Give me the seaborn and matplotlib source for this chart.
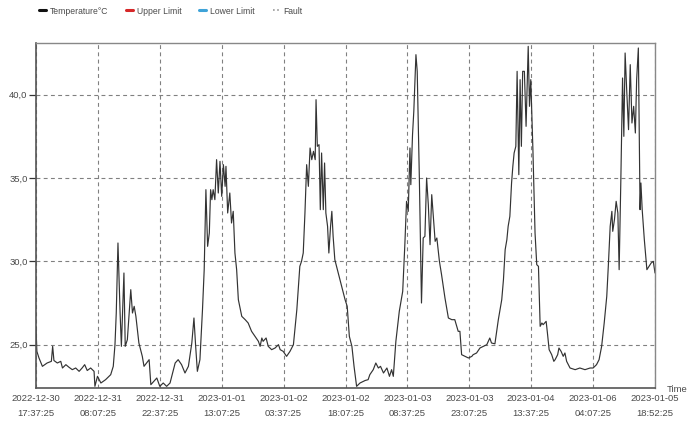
import matplotlib
matplotlib.use("Agg")
import matplotlib.pyplot as plt
from matplotlib.lines import Line2D
from matplotlib.ticker import FuncFormatter
import numpy as np
import pandas as pd
import seaborn as sns

# Hours elapsed since 2022-12-30 17:37:25
hours = [
    0.0, 0.2, 0.7, 1.5, 2.6, 3.6, 3.9, 4.2, 5.0, 5.8, 6.2, 7.0, 7.7, 8.5, 9.3,
    10.1, 10.8, 11.4, 12.0, 12.8, 13.6, 13.8, 14.1, 14.4, 15.2, 16.3, 17.5,
    18.1, 18.5, 18.8, 19.2, 19.7, 20.0, 20.6, 20.9, 21.4, 22.2, 22.6, 23.0,
    23.4, 24.1, 24.9, 25.3, 26.5, 26.9, 27.6, 28.3, 29.0, 29.8, 30.6, 31.4,
    32.6, 33.3, 34.1, 34.9, 35.7, 36.5, 37.0, 37.4, 37.8, 38.4, 39.0, 39.4,
    39.8, 40.2, 40.6, 40.9, 41.2, 41.5, 41.9, 42.3, 42.7, 43.1, 43.5, 43.9,
    44.3, 44.5, 44.9, 45.4, 45.8, 46.2, 46.6, 47.0, 47.4, 48.2, 49.0, 49.7,
    50.5, 51.3, 52.1, 52.5, 52.9, 53.2, 53.9, 54.4, 55.2, 56.0, 56.8, 57.2,
    57.9, 58.7, 59.5, 60.3, 61.1, 61.8, 62.2, 62.6, 63.0, 63.4, 63.8, 64.2,
    64.6, 65.0, 65.4, 65.6, 65.9, 66.3, 66.6, 66.9, 67.3, 67.6, 67.9, 68.3,
    68.6, 69.0, 69.3, 69.6, 70.0, 70.8, 71.6, 72.4, 72.9, 73.4, 74.0, 74.5,
    75.1, 75.9, 77.1, 77.8, 78.2, 79.0, 79.6, 80.2, 80.7, 81.4, 82.2, 82.8,
    83.3, 83.7, 84.3, 85.1, 85.9, 86.4, 86.8, 87.2, 87.6, 87.8, 88.2, 88.5,
    89.0, 89.3, 89.8, 90.3, 90.7, 91.1, 91.5, 91.9, 92.3, 92.7, 93.1, 93.5,
    93.9, 94.5, 95.0, 95.8, 96.6, 97.4, 98.1, 98.9, 99.3, 99.7, 100.5, 101.3,
    102.1, 102.4, 103.2, 104.0, 104.8, 105.6, 106.3, 106.7, 107.5, 108.3,
    109.1, 109.5, 109.9, 110.3, 110.6, 111.0, 111.4, 111.7, 112.0, 112.4,
    112.7, 113.1, 113.4, 113.7, 114.0, 114.4, 114.8, 115.3, 115.6, 115.9,
    116.4, 116.9, 117.3, 117.7, 118.1, 118.5, 118.8, 119.5, 119.8, 120.2,
    120.8, 121.3, 121.6, 122.2, 122.5, 123.0, 123.5, 123.9, 124.3, 125.1,
    126.3, 127.4, 128.6, 129.8, 130.5, 131.3, 131.9, 132.5, 133.1, 133.7,
    134.1, 134.5, 134.9, 135.1, 135.5, 135.9, 136.3, 136.6, 137.0, 137.4,
    137.7, 138.0, 138.4, 138.8, 139.2, 139.6, 140.0, 140.4, 140.7, 141.1,
    141.5, 141.7, 142.0, 142.5, 143.1, 143.6, 144.1, 144.6, 145.0,
]

temperature = [
    26.1, 24.6, 24.2, 23.7, 23.9, 24.0, 24.9, 24.05, 23.9, 24.0, 23.6, 23.8,
    23.65, 23.5, 23.6, 23.4, 23.6, 23.8, 23.45, 23.6, 23.4, 22.5, 22.8, 23.1,
    22.7, 22.9, 23.2, 23.7, 25.0, 26.9, 31.1, 26.9, 24.9, 29.3, 24.9, 25.3,
    28.3, 26.9, 27.3, 26.7, 25.1, 24.3, 23.7, 24.1, 22.6, 22.8, 23.0, 22.5,
    22.7, 22.5, 22.7, 23.9, 24.1, 23.8, 23.3, 23.7, 25.1, 26.6, 24.9, 23.4,
    24.1, 27.1, 29.5, 34.3, 30.9, 31.7, 34.3, 33.7, 34.3, 33.7, 36.1, 34.1,
    36.0, 33.9, 35.8, 34.5, 35.7, 32.9, 34.1, 32.3, 33.0, 30.5, 29.5, 27.7,
    26.7, 26.5, 26.3, 25.8, 25.5, 25.2, 24.9, 25.4, 25.2, 25.4, 24.9, 24.7,
    24.8, 25.0, 24.7, 24.6, 24.3, 24.6, 25.0, 27.1, 29.7, 30.0, 30.5, 32.9,
    35.8, 34.5, 36.8, 36.1, 36.6, 36.1, 39.7, 36.9, 37.0, 33.1, 36.5, 33.1,
    35.9, 32.9, 32.1, 30.5, 32.1, 33.0, 31.5, 30.1, 29.3, 28.5, 27.7, 27.3,
    25.5, 24.9, 23.7, 22.5, 22.7, 22.85, 22.9, 23.2, 23.5, 23.9, 23.6, 23.7,
    23.3, 23.6, 23.1, 23.5, 23.1, 25.2, 27.0, 28.2, 31.0, 33.6, 33.0, 36.8,
    34.6, 37.6, 39.0, 42.4, 41.4, 35.0, 27.5, 31.4, 31.5, 35.0, 33.4, 31.0,
    34.0, 32.6, 31.2, 31.4, 30.0, 29.2, 27.8, 26.6, 26.5, 26.5, 25.8, 25.8,
    24.4, 24.3, 24.2, 24.3, 24.4, 24.5, 24.8, 24.9, 25.0, 25.4, 25.1, 25.05,
    26.5, 27.7, 28.9, 30.7, 31.3, 32.1, 32.7, 34.7, 35.7, 36.5, 36.9, 41.4,
    35.2, 40.9, 36.9, 41.4, 41.4, 38.1, 42.9, 39.3, 40.9, 36.7, 31.7, 29.8,
    29.7, 26.1, 26.3, 26.2, 26.4, 25.7, 24.7, 24.4, 24.0, 24.1, 24.4, 24.8,
    24.6, 24.3, 24.5, 24.0, 23.6, 23.5, 23.6, 23.5, 23.6, 23.6, 23.8, 24.1,
    24.9, 26.3, 27.9, 29.9, 32.1, 33.0, 31.8, 32.5, 33.6, 32.9, 29.5, 34.9,
    41.0, 37.5, 42.5, 40.1, 37.9, 41.8, 38.3, 39.3, 37.7, 40.9, 42.8, 33.1,
    34.7, 33.1, 31.3, 29.5, 29.7, 29.9, 30.0, 29.3,
]

tick_hours = [0, 14.5, 29, 43.5, 58, 72.5, 87, 101.5, 116, 130.5, 145]
tick_dates = [
    "2022-12-30", "2022-12-31", "2022-12-31", "2023-01-01", "2023-01-02",
    "2023-01-02", "2023-01-03", "2023-01-03", "2023-01-04", "2023-01-06",
    "2023-01-05",
]
tick_times = [
    "17:37:25", "08:07:25", "22:37:25", "13:07:25", "03:37:25", "18:07:25",
    "08:37:25", "23:07:25", "13:37:25", "04:07:25", "18:52:25",
]
y_ticks = [25.0, 30.0, 35.0, 40.0]

legend_labels = ["Temperature°C", "Upper Limit", "Lower Limit", "Fault"]
legend_colors = ["#111111", "#d62728", "#3fa3d8", "#999999"]

sns.set_style("white")
plt.rcParams["font.family"] = ["Liberation Sans", "DejaVu Sans"]

text_color = "#4a4a4a"
df = pd.DataFrame({"hours": hours, "temperature": temperature})

fig = plt.figure(figsize=(6.92, 4.21), dpi=100)
ax = fig.add_axes([36 / 692, 33 / 421, 619 / 692, 345 / 421])

sns.lineplot(data=df, x="hours", y="temperature", ax=ax,
             color="#333333", linewidth=0.85, estimator=None, sort=False)

ax.set_xlim(0, 145)
ax.set_ylim(22.4, 43.1)

ax.set_xticks(tick_hours)
ax.set_xticklabels([f"{d}\n{t}" for d, t in zip(tick_dates, tick_times)],
                   fontsize=6.8, color=text_color, linespacing=1.9)
ax.set_yticks(y_ticks)
ax.yaxis.set_major_formatter(FuncFormatter(lambda v, _: f"{v:.1f}".replace(".", ",")))
ax.tick_params(axis="y", labelsize=6.8, labelcolor=text_color, length=5,
               width=0.9, color="#333333", direction="out", left=True, pad=1)
ax.tick_params(axis="x", length=0, pad=4)

ax.grid(True, which="major", axis="both", color="#808080",
        linestyle=(0, (3.5, 3)), linewidth=0.8)

for side in ["left", "bottom"]:
    ax.spines[side].set_color("#555555")
    ax.spines[side].set_linewidth(1.2)
for side in ["top", "right"]:
    ax.spines[side].set_color("#888888")
    ax.spines[side].set_linewidth(1.0)

ax.set_xlabel("")
ax.set_ylabel("")

fig.text(667 / 692, 1 - 390 / 421, "Time", fontsize=6.8, color=text_color,
         ha="left", va="center")

handles = [
    Line2D([], [], color=legend_colors[0], linewidth=2.2),
    Line2D([], [], color=legend_colors[1], linewidth=2.2),
    Line2D([], [], color=legend_colors[2], linewidth=2.2),
    Line2D([], [], color=legend_colors[3], linewidth=1.2, linestyle=(0, (1, 1.5))),
]
fig.legend(handles, legend_labels, loc="center left",
           bbox_to_anchor=(31 / 692, 1 - 11 / 421), ncol=4, frameon=False,
           fontsize=6.2, handlelength=0.8, handletextpad=0.45,
           columnspacing=2.1, labelcolor=text_color)

fig.savefig("out.png", dpi=100, facecolor="white")
